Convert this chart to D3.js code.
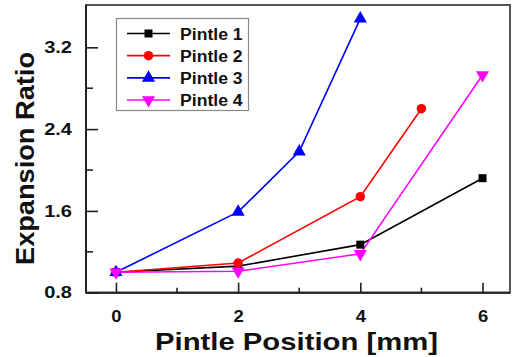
<!DOCTYPE html>
<html><head><meta charset="utf-8">
<script src="https://cdn.jsdelivr.net/npm/d3@7"></script>
<style>
html,body{margin:0;padding:0;background:#fff;}
svg{display:block;font-family:"Liberation Sans",Arial,sans-serif;font-weight:bold;}
</style></head>
<body>
<svg id="chart" width="514" height="357"></svg>
<script>
const seriesNames = ["Pintle 1", "Pintle 2", "Pintle 3", "Pintle 4"];
const seriesColors = ["#000000", "#ff0000", "#0000ff", "#ff00ff"];
const seriesSymbols = ["square", "circle", "triangleUp", "triangleDown"];
const pintle1X = [0, 2, 4, 6];
const pintle1Y = [1.0, 1.06, 1.27, 1.92];
const pintle2X = [0, 2, 4, 5];
const pintle2Y = [1.0, 1.09, 1.74, 2.6];
const pintle3X = [0, 2, 3, 4];
const pintle3Y = [1.0, 1.59, 2.18, 3.48];
const pintle4X = [0, 2, 4, 6];
const pintle4Y = [1.0, 1.01, 1.18, 2.93];
const xTicks = [0, 2, 4, 6];
const xMinorTicks = [1, 3, 5];
const yTicks = [0.8, 1.6, 2.4, 3.2];
const yMinorTicks = [1.2, 2.0, 2.8];
const xTitle = "Pintle Position [mm]";
const yTitle = "Expansion Ratio";

const allX = [pintle1X, pintle2X, pintle3X, pintle4X];
const allY = [pintle1Y, pintle2Y, pintle3Y, pintle4Y];
const series = seriesNames.map((n, i) => ({
  name: n, color: seriesColors[i], symbol: seriesSymbols[i],
  pts: allX[i].map((x, j) => ({x: x, y: allY[i][j]}))
}));

const L = 86, R = 510, T = 5, B = 292.7;
const x = d3.scaleLinear().domain([-0.49, 6.45]).range([L, R]);
const y = d3.scaleLinear().domain([0.8, 3.614]).range([B, T]);
const svg = d3.select("#chart");

function stretchText(sel, k) {
  sel.each(function() {
    const w = this.getComputedTextLength();
    d3.select(this).attr("textLength", w * k).attr("lengthAdjust", "spacingAndGlyphs");
  });
}

// frame
svg.append("rect").attr("x", L).attr("y", T).attr("width", R - L).attr("height", B - T)
  .attr("fill", "none").attr("stroke", "#555").attr("stroke-width", 2);

// x axis
const xAxis = svg.append("g").attr("transform", `translate(0,${B})`)
  .call(d3.axisBottom(x).tickValues(xTicks).tickFormat(d3.format("d")).tickSizeInner(-10).tickSizeOuter(0).tickPadding(18));
xAxis.select(".domain").remove();
xAxis.selectAll(".tick line").attr("stroke", "#222").attr("stroke-width", 1.6);
xAxis.selectAll("text").attr("font-size", 16).attr("font-family", "Liberation Sans, Arial, sans-serif")
  .attr("font-weight", "bold").attr("fill", "#111").attr("dy", "0.71em").call(stretchText, 1.15);
svg.append("g").selectAll("line").data(xMinorTicks).join("line")
  .attr("x1", d => x(d)).attr("x2", d => x(d)).attr("y1", B).attr("y2", B - 5)
  .attr("stroke", "#222").attr("stroke-width", 1.6);

// y axis
const yAxis = svg.append("g").attr("transform", `translate(${L},0)`)
  .call(d3.axisLeft(y).tickValues(yTicks).tickFormat(d3.format(".1f")).tickSizeInner(-12).tickSizeOuter(0).tickPadding(14));
yAxis.select(".domain").remove();
yAxis.selectAll(".tick line").attr("stroke", "#222").attr("stroke-width", 1.6);
yAxis.selectAll("text").attr("font-size", 16).attr("font-family", "Liberation Sans, Arial, sans-serif")
  .attr("font-weight", "bold").attr("fill", "#111").call(stretchText, 1.25);
svg.append("g").selectAll("line").data(yMinorTicks).join("line")
  .attr("x1", L).attr("x2", L + 7).attr("y1", d => y(d)).attr("y2", d => y(d))
  .attr("stroke", "#222").attr("stroke-width", 1.6);

// axis lines (left & bottom darker)
svg.append("line").attr("x1", L).attr("x2", L).attr("y1", T).attr("y2", B).attr("stroke", "#222").attr("stroke-width", 2);
svg.append("line").attr("x1", L).attr("x2", R).attr("y1", B).attr("y2", B).attr("stroke", "#222").attr("stroke-width", 2);

// titles
svg.append("text").attr("x", 296.5).attr("y", 350).attr("text-anchor", "middle")
  .attr("font-size", 24).attr("fill", "#111").attr("textLength", 283).attr("lengthAdjust", "spacingAndGlyphs").text(xTitle);
svg.append("text").attr("transform", "translate(34,158.5) rotate(-90)").attr("text-anchor", "middle")
  .attr("font-size", 25).attr("fill", "#111").attr("textLength", 213).attr("lengthAdjust", "spacingAndGlyphs").text(yTitle);

// symbols
const symMap = {square: d3.symbolSquare, circle: d3.symbolCircle, triangleUp: d3.symbolTriangle, triangleDown: d3.symbolTriangle};
const symSize = {square: 64, circle: 70, triangleUp: 75, triangleDown: 75};
function drawSymbol(g, s, cx, cy) {
  g.append("path").attr("d", d3.symbol().type(symMap[s.symbol]).size(symSize[s.symbol])())
    .attr("transform", `translate(${cx},${cy})` + (s.symbol === "triangleDown" ? " rotate(180)" : ""))
    .attr("fill", s.color);
}

const line = d3.line().x(d => x(d.x)).y(d => y(d.y));
const plot = svg.append("g");
series.forEach(s => {
  plot.append("path").datum(s.pts).attr("d", line).attr("fill", "none").attr("stroke", s.color).attr("stroke-width", 1.6);
});
series.forEach(s => {
  s.pts.forEach(p => drawSymbol(plot, s, x(p.x), y(p.y)));
});

// legend
const lg = svg.append("g");
lg.append("rect").attr("x", 116.5).attr("y", 18.5).attr("width", 132).attr("height", 92)
  .attr("fill", "#fff").attr("stroke", "#888").attr("stroke-width", 1.2);
const rowY = d3.scaleLinear().domain([0, 3]).range([33.5, 100]);
series.forEach((s, i) => {
  const cy = rowY(i);
  lg.append("line").attr("x1", 127).attr("x2", 170).attr("y1", cy).attr("y2", cy).attr("stroke", s.color).attr("stroke-width", 1.6);
  drawSymbol(lg, s, 148.5, cy);
  lg.append("text").attr("x", 180).attr("y", cy + 6).attr("font-size", 16).attr("fill", "#111").text(s.name).call(stretchText, 1.1);
});
</script>
</body></html>
